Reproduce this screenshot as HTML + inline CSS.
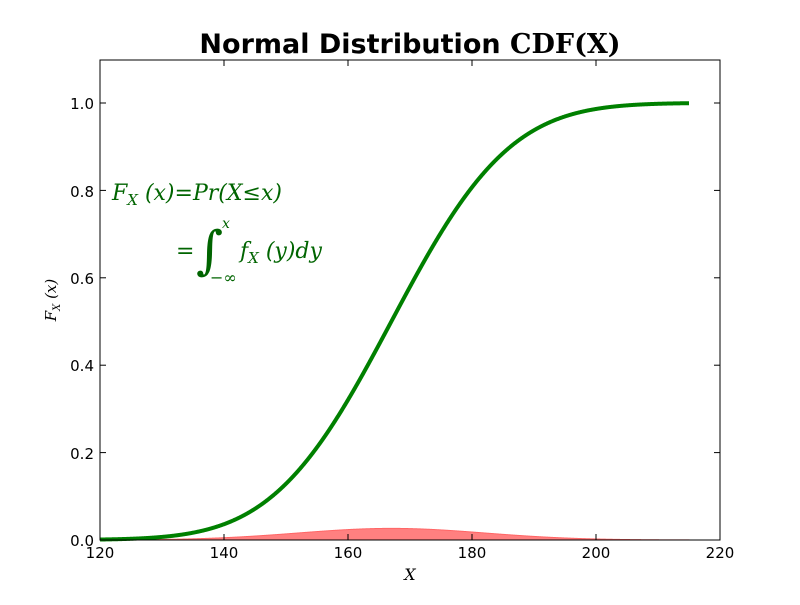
<!DOCTYPE html>
<html><head><meta charset="utf-8"><style>
body{margin:0;background:#fff;}
svg text{font-family:"DejaVu Sans","Liberation Sans",sans-serif;}
svg text.m, svg .m text{font-family:"DejaVu Serif","Liberation Serif",serif;font-style:italic;}
</style></head><body>
<svg id="s" width="800" height="600" viewBox="0 0 800 600" xmlns="http://www.w3.org/2000/svg">
<rect width="800" height="600" fill="#fff"/>
<path id="pdf" fill="#ff8080" stroke="#ff6666" stroke-width="1"/>
<path id="cdf" fill="none" stroke="#008000" stroke-width="4"/>
<rect x="100" y="60" width="620" height="480" fill="none" stroke="#000" stroke-width="1"/>
<g id="ticks" stroke="#000" stroke-width="1"></g>
<g font-size="15" fill="#000" text-anchor="middle">
<text x="100" y="558">120</text><text x="224" y="558">140</text><text x="348" y="558">160</text>
<text x="472" y="558">180</text><text x="596" y="558">200</text><text x="720" y="558">220</text>
</g>
<g font-size="15" fill="#000" text-anchor="end">
<text x="94" y="546">0.0</text><text x="94" y="459">0.2</text><text x="94" y="371">0.4</text>
<text x="94" y="284">0.6</text><text x="94" y="197">0.8</text><text x="94" y="109">1.0</text>
</g>
<text x="410" y="580" class="m" font-size="16" text-anchor="middle">X</text>
<text transform="translate(56,300) rotate(-90)" class="m" font-size="15" text-anchor="middle">F<tspan font-size="10" dy="4">X</tspan><tspan dy="-4"> (x)</tspan></text>
<text x="410" y="53" text-anchor="middle" font-size="27" font-weight="bold">Normal Distribution <tspan style="font-family:'DejaVu Serif',serif" font-weight="bold">CDF(X)</tspan></text>
<g fill="#006400" class="m" font-size="22">
<text x="112" y="200">F<tspan font-size="15" dy="5">X</tspan><tspan dy="-5"> (x)=Pr(X≤x)</tspan></text>
<text x="176" y="258">=</text>
<text x="196" y="268" font-size="52" style="font-style:normal">∫</text>
<text x="240" y="258">f<tspan font-size="15" dy="5">X</tspan><tspan dy="-5"> (y)dy</tspan></text>
<text x="222" y="228" font-size="14">x</text>
<text x="210" y="283" font-size="16">−∞</text>
</g>
</svg>
<script>
var mu=167,sd=15;
function px(x){return 100+(x-120)*6.2;}
function py(y){return 540-y*437;}
function f(x){return Math.exp(-0.5*((x-mu)/sd)**2)/(sd*Math.sqrt(2*Math.PI));}
var c=0,pts=[],pp=[],dx=0.05,x;
for(x=120;x<=215.0001;x+=dx){ if(x>120)c+=f(x-dx/2)*dx; pts.push(px(x).toFixed(2)+","+py(c+0.0011).toFixed(2)); pp.push(px(x).toFixed(2)+","+py(f(x)).toFixed(2));}
document.getElementById('cdf').setAttribute('d','M'+pts.join('L'));
document.getElementById('pdf').setAttribute('d','M100,540L'+pp.join('L')+'L'+px(215)+',540Z');
var g=document.getElementById('ticks'),h='';
for(var i=0;i<=5;i++){var X=100+i*124;h+='<line x1="'+X+'" y1="540" x2="'+X+'" y2="534"/><line x1="'+X+'" y1="60" x2="'+X+'" y2="66"/>';}
for(var j=0;j<=5;j++){var Y=540-j*87.4;h+='<line x1="100" y1="'+Y+'" x2="106" y2="'+Y+'"/><line x1="720" y1="'+Y+'" x2="714" y2="'+Y+'"/>';}
g.innerHTML=h;
</script>
</body></html>
